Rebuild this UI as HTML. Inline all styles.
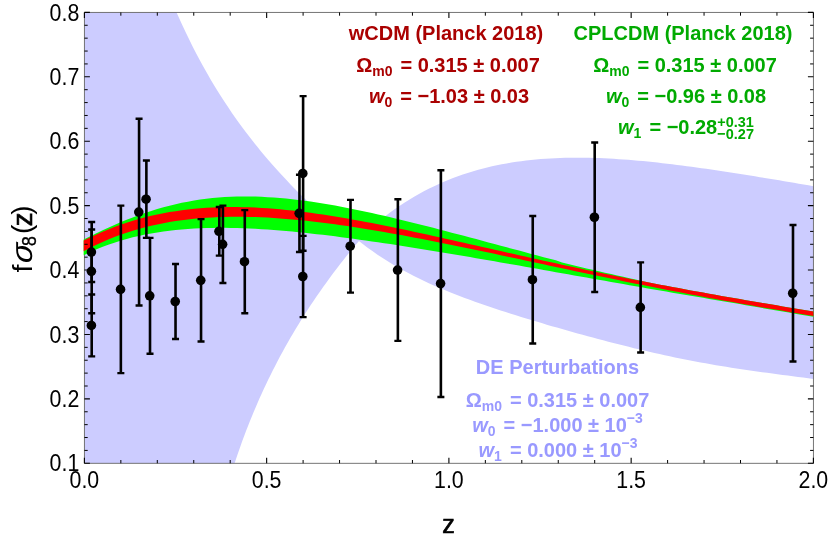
<!DOCTYPE html>
<html><head><meta charset="utf-8"><title>fσ8(z)</title>
<style>html,body{margin:0;padding:0;background:#fff;}body{width:830px;height:545px;position:relative;overflow:hidden;font-family:"Liberation Sans",sans-serif;}</style></head>
<body>
<svg width="830" height="545" viewBox="0 0 830 545" style="position:absolute;left:0;top:0;will-change:transform;opacity:0.9999">
<rect width="830" height="545" fill="#fff"/>
<path d="M84.4,12.4 L176.60,12.40 L178.72,17.18 L180.88,21.97 L183.08,26.75 L185.32,31.54 L187.62,36.32 L189.96,41.11 L192.35,45.89 L194.79,50.68 L197.28,55.46 L199.83,60.25 L202.43,65.03 L205.09,69.82 L207.82,74.60 L210.60,79.38 L213.45,84.17 L216.36,88.95 L219.34,93.74 L222.38,98.52 L225.50,103.31 L228.69,108.09 L231.95,112.88 L235.28,117.66 L238.69,122.45 L242.18,127.23 L245.75,132.02 L249.41,136.80 L253.14,141.58 L256.96,146.37 L260.87,151.15 L264.86,155.94 L268.95,160.72 L273.12,165.51 L277.39,170.29 L281.76,175.08 L286.22,179.86 L290.78,184.65 L295.44,189.43 L300.20,194.22 L305.07,199.00 L318.00,210.00 L335.00,221.00 L350.00,229.00 L362.00,234.00 L363.17,236.00 L359.21,240.64 L355.32,245.28 L351.49,249.92 L347.72,254.56 L344.02,259.19 L340.39,263.83 L336.81,268.47 L333.30,273.11 L329.85,277.75 L326.47,282.39 L323.14,287.03 L319.87,291.67 L316.66,296.30 L313.51,300.94 L310.41,305.58 L307.37,310.22 L304.39,314.86 L301.47,319.50 L298.59,324.14 L295.78,328.78 L293.01,333.41 L290.30,338.05 L287.64,342.69 L285.04,347.33 L282.48,351.97 L279.97,356.61 L277.51,361.25 L275.11,365.89 L272.74,370.52 L270.43,375.16 L268.16,379.80 L265.94,384.44 L263.77,389.08 L261.64,393.72 L259.55,398.36 L257.51,403.00 L255.51,407.63 L253.55,412.27 L251.63,416.91 L249.76,421.55 L247.92,426.19 L246.12,430.83 L244.36,435.47 L242.64,440.11 L240.96,444.74 L239.31,449.38 L237.70,454.02 L236.12,458.66 L234.58,463.30 L84.4,463.3 Z" fill="#ccccff"/>
<path d="M352.00,237.00 L366.00,228.50 L380.00,220.36 L384.87,216.53 L389.74,212.86 L394.61,209.35 L399.48,205.99 L404.35,202.79 L409.22,199.72 L414.09,196.81 L418.96,194.02 L423.83,191.37 L428.70,188.86 L433.57,186.46 L438.44,184.19 L443.31,182.04 L448.18,180.01 L453.04,178.08 L457.91,176.27 L462.78,174.55 L467.65,172.95 L472.52,171.44 L477.39,170.02 L482.26,168.70 L487.13,167.47 L492.00,166.33 L496.87,165.26 L501.74,164.29 L506.61,163.39 L511.48,162.56 L516.35,161.81 L521.22,161.13 L526.09,160.52 L530.96,159.98 L535.83,159.50 L540.70,159.08 L545.57,158.72 L550.44,158.42 L555.31,158.17 L560.18,157.98 L565.05,157.83 L569.92,157.74 L574.79,157.69 L579.66,157.70 L584.53,157.74 L589.40,157.83 L594.27,157.95 L599.13,158.12 L604.00,158.32 L608.87,158.56 L613.74,158.83 L618.61,159.14 L623.48,159.47 L628.35,159.84 L633.22,160.24 L638.09,160.66 L642.96,161.11 L647.83,161.58 L652.70,162.08 L657.57,162.60 L662.44,163.15 L667.31,163.71 L672.18,164.29 L677.05,164.89 L681.92,165.51 L686.79,166.15 L691.66,166.80 L696.53,167.47 L701.40,168.15 L706.27,168.84 L711.14,169.55 L716.01,170.26 L720.88,170.99 L725.75,171.73 L730.62,172.48 L735.49,173.24 L740.36,174.01 L745.22,174.78 L750.09,175.56 L754.96,176.35 L759.83,177.14 L764.70,177.94 L769.57,178.75 L774.44,179.56 L779.31,180.37 L784.18,181.18 L789.05,182.00 L793.92,182.83 L798.79,183.65 L803.66,184.48 L808.53,185.30 L813.40,186.13 L813.40,378.95 L808.27,378.25 L803.14,377.56 L798.02,376.88 L792.89,376.22 L787.76,375.55 L782.63,374.88 L777.50,374.22 L772.38,373.54 L767.25,372.86 L762.12,372.17 L756.99,371.46 L751.86,370.74 L746.73,370.01 L741.61,369.25 L736.48,368.48 L731.35,367.68 L726.22,366.87 L721.09,366.03 L715.97,365.16 L710.84,364.28 L705.71,363.37 L700.58,362.43 L695.45,361.48 L690.33,360.49 L685.20,359.48 L680.07,358.45 L674.94,357.40 L669.81,356.32 L664.69,355.21 L659.56,354.09 L654.43,352.94 L649.30,351.76 L644.17,350.57 L639.04,349.36 L633.92,348.13 L628.79,346.87 L623.66,345.60 L618.53,344.31 L613.40,343.00 L608.28,341.68 L603.15,340.34 L598.02,338.98 L592.89,337.61 L587.76,336.23 L582.64,334.83 L577.51,333.41 L572.38,331.98 L567.25,330.54 L562.12,329.09 L557.00,327.62 L551.87,326.13 L546.74,324.63 L541.61,323.12 L536.48,321.60 L531.36,320.05 L526.23,318.49 L521.10,316.92 L515.97,315.32 L510.84,313.70 L505.71,312.06 L500.59,310.40 L495.46,308.72 L490.33,307.00 L485.20,305.26 L480.07,303.48 L474.95,301.67 L469.82,299.81 L464.69,297.92 L459.56,295.98 L454.43,293.99 L449.31,291.95 L444.18,289.85 L439.05,287.69 L433.92,285.46 L428.79,283.15 L423.67,280.77 L418.54,278.30 L413.41,275.74 L408.28,273.09 L403.15,270.32 L398.02,267.45 L392.90,264.45 L387.77,261.33 L382.64,258.07 L377.51,254.66 L372.38,251.10 L367.26,247.38 L362.13,243.47 L357.00,239.39 Z" fill="#ccccff"/>
<rect x="84.4" y="12.4" width="729.0" height="450.90000000000003" fill="none" stroke="#666" stroke-width="0.9"/>
<path d="M83.7,239.5 L89.83,236.42 L95.96,233.43 L102.10,230.51 L108.23,227.68 L114.36,224.94 L120.49,222.31 L126.62,219.79 L132.76,217.38 L138.89,215.10 L145.02,212.95 L151.15,210.93 L157.28,209.04 L163.42,207.29 L169.55,205.67 L175.68,204.19 L181.81,202.85 L187.94,201.64 L194.07,200.56 L200.21,199.62 L206.34,198.81 L212.47,198.12 L218.60,197.56 L224.73,197.12 L230.87,196.80 L237.00,196.59 L243.13,196.49 L249.26,196.50 L255.39,196.62 L261.53,196.83 L267.66,197.13 L273.79,197.53 L279.92,198.01 L286.05,198.58 L292.19,199.22 L298.32,199.94 L304.45,200.73 L310.58,201.58 L316.71,202.50 L322.85,203.48 L328.98,204.51 L335.11,205.60 L341.24,206.74 L347.37,207.92 L353.51,209.14 L359.64,210.41 L365.77,211.71 L371.90,213.05 L378.03,214.42 L384.16,215.82 L390.30,217.25 L396.43,218.70 L402.56,220.18 L408.69,221.67 L414.82,223.19 L420.96,224.73 L427.09,226.28 L433.22,227.85 L439.35,229.43 L445.48,231.02 L451.62,232.63 L457.75,234.24 L463.88,235.86 L470.01,237.49 L476.14,239.12 L482.28,240.76 L488.41,242.40 L494.54,244.04 L500.67,245.69 L506.80,247.33 L512.94,248.98 L519.07,250.62 L525.20,252.26 L531.33,253.89 L537.46,255.52 L543.59,257.14 L549.73,258.75 L555.86,260.35 L561.99,262.60 L568.12,264.07 L574.25,265.52 L580.39,266.97 L586.52,268.41 L592.65,269.83 L598.78,271.25 L604.91,272.66 L611.05,274.06 L617.18,275.45 L623.31,276.83 L629.44,278.19 L635.57,279.55 L641.71,280.90 L647.84,282.24 L653.97,283.48 L660.10,284.65 L666.23,285.82 L672.37,286.97 L678.50,288.12 L684.63,289.26 L690.76,290.39 L696.89,291.51 L703.03,292.62 L709.16,293.72 L715.29,294.82 L721.42,295.90 L727.55,296.98 L733.68,298.05 L739.82,299.12 L745.95,300.18 L752.08,301.23 L758.21,302.27 L764.34,303.31 L770.48,304.34 L776.61,305.37 L782.74,306.39 L788.87,307.41 L795.00,308.42 L801.14,309.43 L807.27,310.43 L813.40,311.43 L813.4,316.8 L807.27,315.72 L801.14,314.68 L795.00,313.64 L788.87,312.60 L782.74,311.56 L776.61,310.51 L770.48,309.46 L764.34,308.41 L758.21,307.35 L752.08,306.28 L745.95,305.21 L739.82,304.12 L733.68,303.04 L727.55,302.01 L721.42,300.97 L715.29,299.94 L709.16,298.91 L703.03,297.87 L696.89,296.83 L690.76,295.79 L684.63,294.74 L678.50,293.70 L672.37,292.64 L666.23,291.59 L660.10,290.53 L653.97,289.47 L647.84,288.40 L641.71,287.33 L635.57,286.26 L629.44,285.19 L623.31,284.11 L617.18,283.03 L611.05,281.95 L604.91,280.86 L598.78,279.77 L592.65,278.69 L586.52,277.60 L580.39,276.51 L574.25,275.42 L568.12,274.32 L561.99,273.23 L555.86,272.14 L549.73,271.05 L543.59,269.96 L537.46,268.87 L531.33,267.78 L525.20,266.70 L519.07,265.62 L512.94,264.54 L506.80,263.46 L500.67,262.39 L494.54,261.32 L488.41,260.25 L482.28,259.19 L476.14,258.13 L470.01,257.08 L463.88,256.04 L457.75,255.00 L451.62,253.97 L445.48,252.94 L439.35,251.92 L433.22,250.91 L427.09,249.91 L420.96,248.92 L414.82,247.94 L408.69,246.96 L402.56,246.00 L396.43,245.05 L390.30,244.12 L384.16,243.19 L378.03,242.28 L371.90,241.38 L365.77,240.50 L359.64,239.64 L353.51,238.79 L347.37,237.96 L341.24,237.16 L335.11,236.37 L328.98,235.61 L322.85,234.86 L316.71,234.15 L310.58,233.46 L304.45,232.80 L298.32,232.17 L292.19,231.58 L286.05,231.01 L279.92,230.49 L273.79,230.00 L267.66,229.55 L261.53,229.15 L255.39,228.80 L249.26,228.49 L243.13,228.24 L237.00,228.04 L230.87,227.90 L224.73,227.83 L218.60,227.82 L212.47,227.88 L206.34,228.02 L200.21,228.23 L194.07,228.53 L187.94,228.92 L181.81,229.40 L175.68,229.99 L169.55,230.67 L163.42,231.47 L157.28,232.38 L151.15,233.42 L145.02,234.59 L138.89,235.90 L132.76,237.35 L126.62,238.95 L120.49,240.72 L114.36,242.65 L108.23,244.76 L102.10,247.06 L95.96,249.55 L89.83,252.25 L83.70,255.17Z" fill="#00ff00"/>
<path d="M83.7,240.6 L89.83,237.56 L95.96,234.66 L102.10,231.94 L108.23,229.39 L114.36,227.00 L120.49,224.77 L126.62,222.69 L132.76,220.76 L138.89,218.98 L145.02,217.34 L151.15,215.84 L157.28,214.47 L163.42,213.24 L169.55,212.12 L175.68,211.13 L181.81,210.25 L187.94,209.49 L194.07,208.84 L200.21,208.30 L206.34,207.86 L212.47,207.52 L218.60,207.27 L224.73,207.11 L230.87,207.05 L237.00,207.07 L243.13,207.17 L249.26,207.35 L255.39,207.60 L261.53,207.93 L267.66,208.33 L273.79,208.80 L279.92,209.32 L286.05,209.91 L292.19,210.56 L298.32,211.26 L304.45,212.02 L310.58,212.82 L316.71,213.68 L322.85,214.57 L328.98,215.51 L335.11,216.49 L341.24,217.51 L347.37,218.57 L353.51,219.65 L359.64,220.77 L365.77,221.92 L371.90,223.09 L378.03,224.29 L384.16,225.52 L390.30,226.76 L396.43,228.03 L402.56,229.31 L408.69,230.61 L414.82,231.92 L420.96,233.25 L427.09,234.59 L433.22,235.94 L439.35,237.29 L445.48,238.66 L451.62,240.03 L457.75,241.41 L463.88,242.79 L470.01,244.17 L476.14,245.56 L482.28,246.94 L488.41,248.33 L494.54,249.72 L500.67,251.10 L506.80,252.48 L512.94,253.86 L519.07,255.23 L525.20,256.60 L531.33,257.96 L537.46,259.32 L543.59,260.67 L549.73,262.01 L555.86,263.35 L561.99,264.67 L568.12,265.99 L574.25,267.30 L580.39,268.60 L586.52,269.90 L592.65,271.18 L598.78,272.45 L604.91,273.72 L611.05,274.97 L617.18,276.22 L623.31,277.45 L629.44,278.68 L635.57,279.89 L641.71,281.10 L647.84,282.29 L653.97,283.48 L660.10,284.65 L666.23,285.82 L672.37,286.97 L678.50,288.12 L684.63,289.26 L690.76,290.39 L696.89,291.51 L703.03,292.62 L709.16,293.72 L715.29,294.82 L721.42,295.90 L727.55,296.98 L733.68,298.05 L739.82,299.12 L745.95,300.18 L752.08,301.23 L758.21,302.27 L764.34,303.31 L770.48,304.34 L776.61,305.37 L782.74,306.39 L788.87,307.41 L795.00,308.42 L801.14,309.43 L807.27,310.43 L813.40,311.43 L813.4,316.1 L807.27,315.02 L801.14,313.98 L795.00,312.94 L788.87,311.90 L782.74,310.86 L776.61,309.81 L770.48,308.76 L764.34,307.71 L758.21,306.65 L752.08,305.58 L745.95,304.51 L739.82,303.42 L733.68,302.33 L727.55,301.23 L721.42,300.13 L715.29,299.01 L709.16,297.88 L703.03,296.75 L696.89,295.60 L690.76,294.45 L684.63,293.28 L678.50,292.11 L672.37,290.92 L666.23,289.73 L660.10,288.53 L653.97,287.32 L647.84,286.10 L641.71,284.87 L635.57,283.63 L629.44,282.38 L623.31,281.13 L617.18,279.87 L611.05,278.60 L604.91,277.33 L598.78,276.05 L592.65,274.76 L586.52,273.47 L580.39,272.18 L574.25,270.88 L568.12,269.57 L561.99,268.26 L555.86,266.95 L549.73,265.64 L543.59,264.33 L537.46,263.02 L531.33,261.70 L525.20,260.39 L519.07,259.07 L512.94,257.76 L506.80,256.45 L500.67,255.15 L494.54,253.85 L488.41,252.55 L482.28,251.26 L476.14,249.97 L470.01,248.70 L463.88,247.43 L457.75,246.16 L451.62,244.91 L445.48,243.67 L439.35,242.44 L433.22,241.22 L427.09,240.02 L420.96,238.83 L414.82,237.65 L408.69,236.49 L402.56,235.35 L396.43,234.23 L390.30,233.13 L384.16,232.05 L378.03,230.99 L371.90,229.96 L365.77,228.95 L359.64,227.97 L353.51,227.01 L347.37,226.09 L341.24,225.20 L335.11,224.34 L328.98,223.51 L322.85,222.73 L316.71,221.98 L310.58,221.27 L304.45,220.60 L298.32,219.98 L292.19,219.41 L286.05,218.88 L279.92,218.41 L273.79,217.99 L267.66,217.62 L261.53,217.32 L255.39,217.08 L249.26,216.90 L243.13,216.80 L237.00,216.76 L230.87,216.80 L224.73,216.91 L218.60,217.11 L212.47,217.39 L206.34,217.76 L200.21,218.23 L194.07,218.79 L187.94,219.45 L181.81,220.22 L175.68,221.10 L169.55,222.09 L163.42,223.20 L157.28,224.44 L151.15,225.81 L145.02,227.32 L138.89,228.97 L132.76,230.76 L126.62,232.71 L120.49,234.82 L114.36,237.10 L108.23,239.55 L102.10,242.18 L95.96,245.01 L89.83,248.02 L83.70,251.24Z" fill="#ff0000"/>
<path d="M84.40,463.3 v-5.5 M84.40,12.4 v5.5" stroke="#000" stroke-width="1.1" fill="none"/>
<path d="M120.85,463.3 v-3.3 M120.85,12.4 v3.3" stroke="#000" stroke-width="1.0" fill="none"/>
<path d="M157.30,463.3 v-3.3 M157.30,12.4 v3.3" stroke="#000" stroke-width="1.0" fill="none"/>
<path d="M193.75,463.3 v-3.3 M193.75,12.4 v3.3" stroke="#000" stroke-width="1.0" fill="none"/>
<path d="M230.20,463.3 v-3.3 M230.20,12.4 v3.3" stroke="#000" stroke-width="1.0" fill="none"/>
<path d="M266.65,463.3 v-5.5 M266.65,12.4 v5.5" stroke="#000" stroke-width="1.1" fill="none"/>
<path d="M303.10,463.3 v-3.3 M303.10,12.4 v3.3" stroke="#000" stroke-width="1.0" fill="none"/>
<path d="M339.55,463.3 v-3.3 M339.55,12.4 v3.3" stroke="#000" stroke-width="1.0" fill="none"/>
<path d="M376.00,463.3 v-3.3 M376.00,12.4 v3.3" stroke="#000" stroke-width="1.0" fill="none"/>
<path d="M412.45,463.3 v-3.3 M412.45,12.4 v3.3" stroke="#000" stroke-width="1.0" fill="none"/>
<path d="M448.90,463.3 v-5.5 M448.90,12.4 v5.5" stroke="#000" stroke-width="1.1" fill="none"/>
<path d="M485.35,463.3 v-3.3 M485.35,12.4 v3.3" stroke="#000" stroke-width="1.0" fill="none"/>
<path d="M521.80,463.3 v-3.3 M521.80,12.4 v3.3" stroke="#000" stroke-width="1.0" fill="none"/>
<path d="M558.25,463.3 v-3.3 M558.25,12.4 v3.3" stroke="#000" stroke-width="1.0" fill="none"/>
<path d="M594.70,463.3 v-3.3 M594.70,12.4 v3.3" stroke="#000" stroke-width="1.0" fill="none"/>
<path d="M631.15,463.3 v-5.5 M631.15,12.4 v5.5" stroke="#000" stroke-width="1.1" fill="none"/>
<path d="M667.60,463.3 v-3.3 M667.60,12.4 v3.3" stroke="#000" stroke-width="1.0" fill="none"/>
<path d="M704.05,463.3 v-3.3 M704.05,12.4 v3.3" stroke="#000" stroke-width="1.0" fill="none"/>
<path d="M740.50,463.3 v-3.3 M740.50,12.4 v3.3" stroke="#000" stroke-width="1.0" fill="none"/>
<path d="M776.95,463.3 v-3.3 M776.95,12.4 v3.3" stroke="#000" stroke-width="1.0" fill="none"/>
<path d="M813.40,463.3 v-5.5 M813.40,12.4 v5.5" stroke="#000" stroke-width="1.1" fill="none"/>
<path d="M84.4,463.30 h5.5 M813.4,463.30 h-5.5" stroke="#000" stroke-width="1.1" fill="none"/>
<path d="M84.4,450.42 h3.3 M813.4,450.42 h-3.3" stroke="#000" stroke-width="1.0" fill="none"/>
<path d="M84.4,437.53 h3.3 M813.4,437.53 h-3.3" stroke="#000" stroke-width="1.0" fill="none"/>
<path d="M84.4,424.65 h3.3 M813.4,424.65 h-3.3" stroke="#000" stroke-width="1.0" fill="none"/>
<path d="M84.4,411.77 h3.3 M813.4,411.77 h-3.3" stroke="#000" stroke-width="1.0" fill="none"/>
<path d="M84.4,398.89 h5.5 M813.4,398.89 h-5.5" stroke="#000" stroke-width="1.1" fill="none"/>
<path d="M84.4,386.00 h3.3 M813.4,386.00 h-3.3" stroke="#000" stroke-width="1.0" fill="none"/>
<path d="M84.4,373.12 h3.3 M813.4,373.12 h-3.3" stroke="#000" stroke-width="1.0" fill="none"/>
<path d="M84.4,360.24 h3.3 M813.4,360.24 h-3.3" stroke="#000" stroke-width="1.0" fill="none"/>
<path d="M84.4,347.35 h3.3 M813.4,347.35 h-3.3" stroke="#000" stroke-width="1.0" fill="none"/>
<path d="M84.4,334.47 h5.5 M813.4,334.47 h-5.5" stroke="#000" stroke-width="1.1" fill="none"/>
<path d="M84.4,321.59 h3.3 M813.4,321.59 h-3.3" stroke="#000" stroke-width="1.0" fill="none"/>
<path d="M84.4,308.71 h3.3 M813.4,308.71 h-3.3" stroke="#000" stroke-width="1.0" fill="none"/>
<path d="M84.4,295.82 h3.3 M813.4,295.82 h-3.3" stroke="#000" stroke-width="1.0" fill="none"/>
<path d="M84.4,282.94 h3.3 M813.4,282.94 h-3.3" stroke="#000" stroke-width="1.0" fill="none"/>
<path d="M84.4,270.06 h5.5 M813.4,270.06 h-5.5" stroke="#000" stroke-width="1.1" fill="none"/>
<path d="M84.4,257.17 h3.3 M813.4,257.17 h-3.3" stroke="#000" stroke-width="1.0" fill="none"/>
<path d="M84.4,244.29 h3.3 M813.4,244.29 h-3.3" stroke="#000" stroke-width="1.0" fill="none"/>
<path d="M84.4,231.41 h3.3 M813.4,231.41 h-3.3" stroke="#000" stroke-width="1.0" fill="none"/>
<path d="M84.4,218.53 h3.3 M813.4,218.53 h-3.3" stroke="#000" stroke-width="1.0" fill="none"/>
<path d="M84.4,205.64 h5.5 M813.4,205.64 h-5.5" stroke="#000" stroke-width="1.1" fill="none"/>
<path d="M84.4,192.76 h3.3 M813.4,192.76 h-3.3" stroke="#000" stroke-width="1.0" fill="none"/>
<path d="M84.4,179.88 h3.3 M813.4,179.88 h-3.3" stroke="#000" stroke-width="1.0" fill="none"/>
<path d="M84.4,166.99 h3.3 M813.4,166.99 h-3.3" stroke="#000" stroke-width="1.0" fill="none"/>
<path d="M84.4,154.11 h3.3 M813.4,154.11 h-3.3" stroke="#000" stroke-width="1.0" fill="none"/>
<path d="M84.4,141.23 h5.5 M813.4,141.23 h-5.5" stroke="#000" stroke-width="1.1" fill="none"/>
<path d="M84.4,128.35 h3.3 M813.4,128.35 h-3.3" stroke="#000" stroke-width="1.0" fill="none"/>
<path d="M84.4,115.46 h3.3 M813.4,115.46 h-3.3" stroke="#000" stroke-width="1.0" fill="none"/>
<path d="M84.4,102.58 h3.3 M813.4,102.58 h-3.3" stroke="#000" stroke-width="1.0" fill="none"/>
<path d="M84.4,89.70 h3.3 M813.4,89.70 h-3.3" stroke="#000" stroke-width="1.0" fill="none"/>
<path d="M84.4,76.81 h5.5 M813.4,76.81 h-5.5" stroke="#000" stroke-width="1.1" fill="none"/>
<path d="M84.4,63.93 h3.3 M813.4,63.93 h-3.3" stroke="#000" stroke-width="1.0" fill="none"/>
<path d="M84.4,51.05 h3.3 M813.4,51.05 h-3.3" stroke="#000" stroke-width="1.0" fill="none"/>
<path d="M84.4,38.17 h3.3 M813.4,38.17 h-3.3" stroke="#000" stroke-width="1.0" fill="none"/>
<path d="M84.4,25.28 h3.3 M813.4,25.28 h-3.3" stroke="#000" stroke-width="1.0" fill="none"/>
<path d="M84.4,12.40 h5.5 M813.4,12.40 h-5.5" stroke="#000" stroke-width="1.1" fill="none"/>
<path d="M91.69,222.07 V281.97" stroke="#000" stroke-width="2.6" fill="none"/>
<path d="M88.19,222.07 h7.0 M88.19,281.97 h7.0" stroke="#000" stroke-width="2.4" fill="none"/>
<path d="M91.69,229.48 V313.21" stroke="#000" stroke-width="2.6" fill="none"/>
<path d="M88.19,229.48 h7.0 M88.19,313.21 h7.0" stroke="#000" stroke-width="2.4" fill="none"/>
<path d="M91.69,294.53 V356.37" stroke="#000" stroke-width="2.6" fill="none"/>
<path d="M88.19,294.53 h7.0 M88.19,356.37 h7.0" stroke="#000" stroke-width="2.4" fill="none"/>
<path d="M120.85,205.64 V373.12" stroke="#000" stroke-width="2.6" fill="none"/>
<path d="M117.35,205.64 h7.0 M117.35,373.12 h7.0" stroke="#000" stroke-width="2.4" fill="none"/>
<path d="M139.07,118.68 V305.49" stroke="#000" stroke-width="2.6" fill="none"/>
<path d="M135.57,118.68 h7.0 M135.57,305.49 h7.0" stroke="#000" stroke-width="2.4" fill="none"/>
<path d="M146.37,160.55 V237.85" stroke="#000" stroke-width="2.6" fill="none"/>
<path d="M142.87,160.55 h7.0 M142.87,237.85 h7.0" stroke="#000" stroke-width="2.4" fill="none"/>
<path d="M150.01,237.85 V353.80" stroke="#000" stroke-width="2.6" fill="none"/>
<path d="M146.51,237.85 h7.0 M146.51,353.80 h7.0" stroke="#000" stroke-width="2.4" fill="none"/>
<path d="M175.53,263.94 V339.04" stroke="#000" stroke-width="2.6" fill="none"/>
<path d="M172.03,263.94 h7.0 M172.03,339.04 h7.0" stroke="#000" stroke-width="2.4" fill="none"/>
<path d="M201.04,219.17 V341.56" stroke="#000" stroke-width="2.6" fill="none"/>
<path d="M197.54,219.17 h7.0 M197.54,341.56 h7.0" stroke="#000" stroke-width="2.4" fill="none"/>
<path d="M219.27,206.93 V255.63" stroke="#000" stroke-width="2.6" fill="none"/>
<path d="M215.77,206.93 h7.0 M215.77,255.63 h7.0" stroke="#000" stroke-width="2.4" fill="none"/>
<path d="M222.91,205.64 V282.94" stroke="#000" stroke-width="2.6" fill="none"/>
<path d="M219.41,205.64 h7.0 M219.41,282.94 h7.0" stroke="#000" stroke-width="2.4" fill="none"/>
<path d="M244.78,210.15 V313.21" stroke="#000" stroke-width="2.6" fill="none"/>
<path d="M241.28,210.15 h7.0 M241.28,313.21 h7.0" stroke="#000" stroke-width="2.4" fill="none"/>
<path d="M299.45,174.72 V252.02" stroke="#000" stroke-width="2.6" fill="none"/>
<path d="M295.95,174.72 h7.0 M295.95,252.02 h7.0" stroke="#000" stroke-width="2.4" fill="none"/>
<path d="M303.10,96.14 V250.73" stroke="#000" stroke-width="2.6" fill="none"/>
<path d="M299.60,96.14 h7.0 M299.60,250.73 h7.0" stroke="#000" stroke-width="2.4" fill="none"/>
<path d="M303.10,235.92 V317.08" stroke="#000" stroke-width="2.6" fill="none"/>
<path d="M299.60,235.92 h7.0 M299.60,317.08 h7.0" stroke="#000" stroke-width="2.4" fill="none"/>
<path d="M350.49,199.85 V292.60" stroke="#000" stroke-width="2.6" fill="none"/>
<path d="M346.99,199.85 h7.0 M346.99,292.60 h7.0" stroke="#000" stroke-width="2.4" fill="none"/>
<path d="M397.87,199.20 V340.91" stroke="#000" stroke-width="2.6" fill="none"/>
<path d="M394.37,199.20 h7.0 M394.37,340.91 h7.0" stroke="#000" stroke-width="2.4" fill="none"/>
<path d="M440.88,170.21 V396.95" stroke="#000" stroke-width="2.6" fill="none"/>
<path d="M437.38,170.21 h7.0 M437.38,396.95 h7.0" stroke="#000" stroke-width="2.4" fill="none"/>
<path d="M532.74,215.95 V343.49" stroke="#000" stroke-width="2.6" fill="none"/>
<path d="M529.24,215.95 h7.0 M529.24,343.49 h7.0" stroke="#000" stroke-width="2.4" fill="none"/>
<path d="M594.70,142.52 V291.96" stroke="#000" stroke-width="2.6" fill="none"/>
<path d="M591.20,142.52 h7.0 M591.20,291.96 h7.0" stroke="#000" stroke-width="2.4" fill="none"/>
<path d="M640.63,262.33 V352.51" stroke="#000" stroke-width="2.6" fill="none"/>
<path d="M637.13,262.33 h7.0 M637.13,352.51 h7.0" stroke="#000" stroke-width="2.4" fill="none"/>
<path d="M792.99,224.97 V361.53" stroke="#000" stroke-width="2.6" fill="none"/>
<path d="M789.49,224.97 h7.0 M789.49,361.53 h7.0" stroke="#000" stroke-width="2.4" fill="none"/>
<circle cx="91.39" cy="252.02" r="4.8" fill="#000"/>
<circle cx="91.39" cy="271.35" r="4.8" fill="#000"/>
<circle cx="91.39" cy="325.45" r="4.8" fill="#000"/>
<circle cx="120.55" cy="289.38" r="4.8" fill="#000"/>
<circle cx="138.77" cy="212.08" r="4.8" fill="#000"/>
<circle cx="146.06" cy="199.20" r="4.8" fill="#000"/>
<circle cx="149.71" cy="295.82" r="4.8" fill="#000"/>
<circle cx="175.22" cy="301.49" r="4.8" fill="#000"/>
<circle cx="200.74" cy="280.36" r="4.8" fill="#000"/>
<circle cx="218.97" cy="231.28" r="4.8" fill="#000"/>
<circle cx="222.61" cy="244.29" r="4.8" fill="#000"/>
<circle cx="244.48" cy="261.68" r="4.8" fill="#000"/>
<circle cx="299.15" cy="213.37" r="4.8" fill="#000"/>
<circle cx="302.80" cy="173.44" r="4.8" fill="#000"/>
<circle cx="302.80" cy="276.50" r="4.8" fill="#000"/>
<circle cx="350.19" cy="246.22" r="4.8" fill="#000"/>
<circle cx="397.57" cy="270.06" r="4.8" fill="#000"/>
<circle cx="440.58" cy="283.58" r="4.8" fill="#000"/>
<circle cx="532.44" cy="279.72" r="4.8" fill="#000"/>
<circle cx="594.40" cy="217.24" r="4.8" fill="#000"/>
<circle cx="640.33" cy="307.42" r="4.8" fill="#000"/>
<circle cx="792.69" cy="293.25" r="4.8" fill="#000"/>
<g font-family="Liberation Sans, sans-serif" font-size="23.3" fill="#000">
<text transform="translate(79.3,471.40) scale(0.917,1)" text-anchor="end">0.1</text>
<text transform="translate(79.3,406.99) scale(0.917,1)" text-anchor="end">0.2</text>
<text transform="translate(79.3,342.57) scale(0.917,1)" text-anchor="end">0.3</text>
<text transform="translate(79.3,278.16) scale(0.917,1)" text-anchor="end">0.4</text>
<text transform="translate(79.3,213.74) scale(0.917,1)" text-anchor="end">0.5</text>
<text transform="translate(79.3,149.33) scale(0.917,1)" text-anchor="end">0.6</text>
<text transform="translate(79.3,84.91) scale(0.917,1)" text-anchor="end">0.7</text>
<text transform="translate(79.3,20.50) scale(0.917,1)" text-anchor="end">0.8</text>
<text transform="translate(84.40,487.8) scale(0.917,1)" text-anchor="middle">0.0</text>
<text transform="translate(266.65,487.8) scale(0.917,1)" text-anchor="middle">0.5</text>
<text transform="translate(448.90,487.8) scale(0.917,1)" text-anchor="middle">1.0</text>
<text transform="translate(631.15,487.8) scale(0.917,1)" text-anchor="middle">1.5</text>
<text transform="translate(813.40,487.8) scale(0.917,1)" text-anchor="middle">2.0</text>
</g>
<text x="448.5" y="532.6" font-family="Liberation Sans, sans-serif" font-size="25" font-weight="normal" text-anchor="middle" fill="#000" stroke="#000" stroke-width="0.7" stroke-linejoin="miter">z</text>
<g transform="translate(31.5,272.6) rotate(-90)" font-family="Liberation Sans, sans-serif" fill="#000"><text transform="translate(0,0) skewX(0) scale(1,1)" font-size="28.5">f</text><text transform="translate(8.8,0) skewX(-6) scale(1.08,1)" font-size="30" font-style="italic">σ</text><text transform="translate(26.6,4.3) skewX(0) scale(0.88,1)" font-size="20" stroke="#000" stroke-width="0.35">8</text><text transform="translate(38.5,-0.5) skewX(0) scale(1,1)" font-size="28">(</text><text transform="translate(46.4,0) skewX(0) scale(1,1)" font-size="27.5" stroke="#000" stroke-width="0.6">z</text><text transform="translate(57.8,-0.5) skewX(0) scale(1,1)" font-size="28">)</text></g>
<text transform="translate(446,40.2) scale(0.952,1)" text-anchor="middle" fill="#aa0000" font-family="Liberation Sans, sans-serif" font-weight="bold" font-size="21">wCDM (Planck 2018)</text>
<text transform="translate(448,71.5) scale(0.952,1)" text-anchor="middle" fill="#aa0000" font-family="Liberation Sans, sans-serif" font-weight="bold" font-size="21">Ω<tspan font-size="14.7" dy="4">m0</tspan><tspan dy="-4" dx="2.6"> </tspan>= 0.315 ± 0.007</text>
<text transform="translate(449,102.5) scale(0.952,1)" text-anchor="middle" fill="#aa0000" font-family="Liberation Sans, sans-serif" font-weight="bold" font-size="21"><tspan font-style="italic">w</tspan><tspan font-size="14.7" dy="4">0</tspan><tspan dy="-4" dx="2.6"> </tspan>= −1.03 ± 0.03</text>
<text transform="translate(683,40.2) scale(0.952,1)" text-anchor="middle" fill="#00aa00" font-family="Liberation Sans, sans-serif" font-weight="bold" font-size="21">CPLCDM (Planck 2018)</text>
<text transform="translate(685,71.5) scale(0.952,1)" text-anchor="middle" fill="#00aa00" font-family="Liberation Sans, sans-serif" font-weight="bold" font-size="21">Ω<tspan font-size="14.7" dy="4">m0</tspan><tspan dy="-4" dx="2.6"> </tspan>= 0.315 ± 0.007</text>
<text transform="translate(686,102.5) scale(0.952,1)" text-anchor="middle" fill="#00aa00" font-family="Liberation Sans, sans-serif" font-weight="bold" font-size="21"><tspan font-style="italic">w</tspan><tspan font-size="14.7" dy="4">0</tspan><tspan dy="-4" dx="2.6"> </tspan>= −0.96 ± 0.08</text>
<text transform="translate(686,134) scale(0.952,1)" text-anchor="middle" fill="#00aa00" font-family="Liberation Sans, sans-serif" font-weight="bold" font-size="21"><tspan font-style="italic">w</tspan><tspan font-size="14.7" dy="4">1</tspan><tspan dy="-4" dx="2.6"> </tspan>= −0.28<tspan font-size="15.2" dy="-7.3">+0.31</tspan><tspan font-size="15.2" dx="-38.3" dy="12.6">−0.27</tspan></text>
<text transform="translate(557.5,374.0) scale(0.952,1)" text-anchor="middle" fill="#9999ff" font-family="Liberation Sans, sans-serif" font-weight="bold" font-size="21">DE Perturbations</text>
<text transform="translate(557.5,406.6) scale(0.952,1)" text-anchor="middle" fill="#9999ff" font-family="Liberation Sans, sans-serif" font-weight="bold" font-size="21">Ω<tspan font-size="14.7" dy="4">m0</tspan><tspan dy="-4" dx="2.6"> </tspan>= 0.315 ± 0.007</text>
<text transform="translate(557.5,431.6) scale(0.952,1)" text-anchor="middle" fill="#9999ff" font-family="Liberation Sans, sans-serif" font-weight="bold" font-size="21"><tspan font-style="italic">w</tspan><tspan font-size="14.7" dy="4">0</tspan><tspan dy="-4" dx="2.6"> </tspan>= −1.000 ± 10<tspan font-size="14.7" dy="-9">−3</tspan></text>
<text transform="translate(558,457.40000000000003) scale(0.952,1)" text-anchor="middle" fill="#9999ff" font-family="Liberation Sans, sans-serif" font-weight="bold" font-size="21"><tspan font-style="italic">w</tspan><tspan font-size="14.7" dy="4">1</tspan><tspan dy="-4" dx="2.6"> </tspan>= 0.000 ± 10<tspan font-size="14.7" dy="-9">−3</tspan></text>
</svg>
</body></html>
